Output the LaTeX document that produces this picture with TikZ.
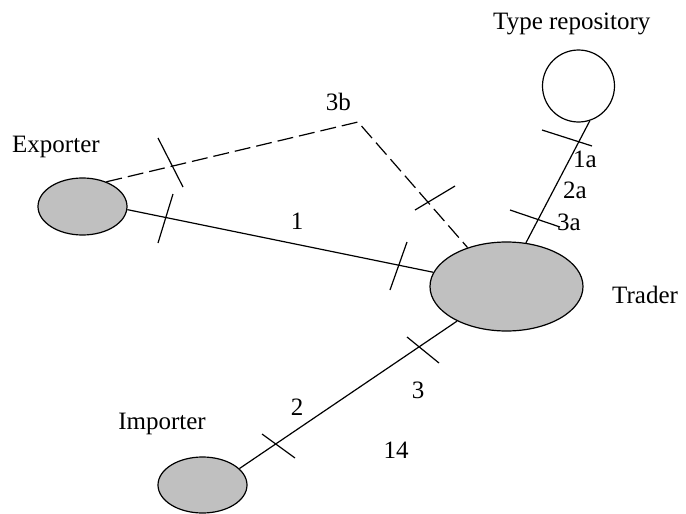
\documentclass[tikz,border=0pt]{standalone}
\usepackage{fontspec}
\setmainfont{Liberation Serif}
\usetikzlibrary{shapes.geometric}
\definecolor{fillgray}{HTML}{C0C0C0}
\tikzset{
  actor/.style={ellipse, draw=black, fill=fillgray, line width=1.2pt, inner sep=0pt},
  repo/.style={circle, draw=black, fill=white, line width=1.2pt, inner sep=0pt, minimum size=72pt},
  conn/.style={draw=black, line width=1.2pt},
  dconn/.style={conn, dash pattern=on 16pt off 6pt},
  tickmark/.style={draw=black, line width=1.2pt},
  lbl/.style={inner sep=0pt, font=\fontsize{25}{30}\selectfont},
}
\begin{document}
\begin{tikzpicture}[x=1pt,y=-1pt]
\useasboundingbox (0,0) rectangle (686,514);
% nodes
\node[actor, minimum width=89pt, minimum height=57pt] (exp) at (82.5,206.5) {};
\node[actor, minimum width=153pt, minimum height=89pt] (trader) at (506.5,286.5) {};
\node[actor, minimum width=89pt, minimum height=56pt] (imp) at (202.5,485) {};
\node[repo] (tr) at (578.5,86) {};
\coordinate (bend) at (358,122);
% labels
\node[lbl, anchor=base west] (lexp) at (12,152) {Exporter};
\node[lbl, anchor=base west] (ltr) at (493,30) {Type repository};
\node[lbl, anchor=base west] (ltrader) at (612,303) {Trader};
\node[lbl, anchor=base east] (limp) at (206,429) {Importer};
\node[lbl, anchor=base east] (l3b) at (351,110) {3b};
\node[lbl, anchor=base] (l1) at (297,229) {1};
\node[lbl, anchor=base west] (l1a) at (573,167) {1a};
\node[lbl, anchor=base west] (l2a) at (563,198) {2a};
\node[lbl, anchor=base west] (l3a) at (557,230) {3a};
\node[lbl, anchor=base] (l2) at (297,415) {2};
\node[lbl, anchor=base] (l3) at (418,398) {3};
\node[lbl, anchor=base] (l14) at (396,458) {14};
% connectors
\draw[conn] (exp.-4) -- (trader.169);
\draw[dconn] (exp.46) -- (bend) -- (trader.135);
\draw[conn] (tr.-72) -- (trader.66);
\draw[conn] (imp.24) -- (trader.-145);
% tick marks
\draw[tickmark] (173,194) -- (158,243);
\draw[tickmark] (407,242) -- (390,290);
\draw[tickmark] (158,138) -- (183,187);
\draw[tickmark] (415,210) -- (455,186);
\draw[tickmark] (542,130) -- (592,146);
\draw[tickmark] (510,210) -- (560,227);
\draw[tickmark] (407,337) -- (439,363);
\draw[tickmark] (262,434) -- (295,458);
\end{tikzpicture}
\end{document}
